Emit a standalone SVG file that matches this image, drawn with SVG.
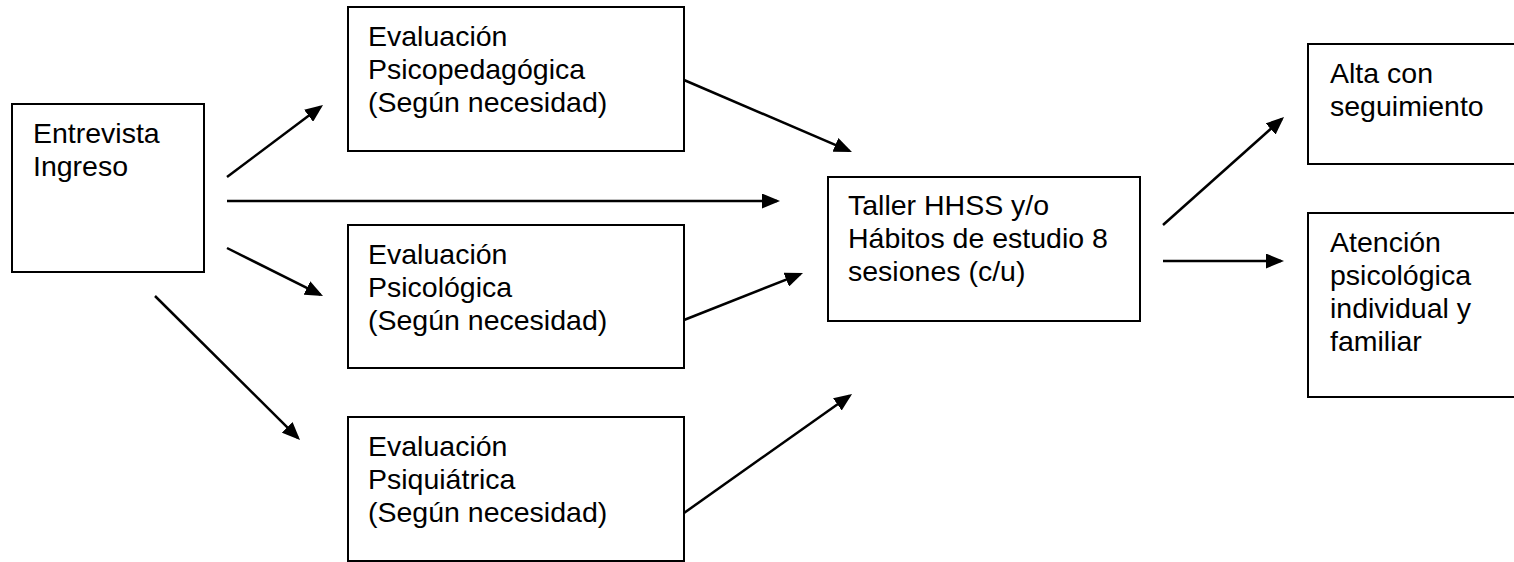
<svg xmlns="http://www.w3.org/2000/svg" width="1514" height="562" viewBox="0 0 1514 562">
  <style>
    .box { fill: #ffffff; stroke: #000000; stroke-width: 2; }
    .lbl { font-family: "Liberation Sans", Arial, sans-serif; font-size: 28.5px; fill: #000000; }
    .conn { stroke: #000000; stroke-width: 2.5; fill: none; marker-end: url(#arrow); }
  </style>
  <defs>
    <marker id="arrow" markerUnits="userSpaceOnUse" markerWidth="18" markerHeight="15" refX="15" refY="7.5" orient="auto">
      <path d="M0,0 L18,7.5 L0,15 Z" fill="#000000"/>
    </marker>
  </defs>
  <rect width="1514" height="562" fill="#ffffff"/>

  <g id="connectors">
    <line class="conn" x1="227" y1="177" x2="320.6" y2="106.8"/>
    <line class="conn" x1="227" y1="201" x2="777" y2="201"/>
    <line class="conn" x1="227" y1="248" x2="320.3" y2="294.7"/>
    <line class="conn" x1="155" y1="296" x2="297.9" y2="437.9"/>
    <line class="conn" x1="684" y1="80" x2="849.2" y2="150.8"/>
    <line class="conn" x1="684" y1="320" x2="800.2" y2="274.1"/>
    <line class="conn" x1="684" y1="513" x2="849.6" y2="395.7"/>
    <line class="conn" x1="1163" y1="225" x2="1281.8" y2="119"/>
    <line class="conn" x1="1163" y1="261" x2="1281" y2="261"/>
  </g>

  <g id="entrevista">
    <rect class="box" x="12" y="104" width="192" height="168"/>
    <text class="lbl" x="33" y="143">Entrevista</text>
    <text class="lbl" x="33" y="176">Ingreso</text>
  </g>

  <g id="eval-psicopedagogica">
    <rect class="box" x="348" y="7" width="336" height="144"/>
    <text class="lbl" x="368" y="46">Evaluación</text>
    <text class="lbl" x="368" y="79">Psicopedagógica</text>
    <text class="lbl" x="368" y="112">(Según necesidad)</text>
  </g>

  <g id="eval-psicologica">
    <rect class="box" x="348" y="225" width="336" height="143"/>
    <text class="lbl" x="368" y="264">Evaluación</text>
    <text class="lbl" x="368" y="297">Psicológica</text>
    <text class="lbl" x="368" y="330">(Según necesidad)</text>
  </g>

  <g id="eval-psiquiatrica">
    <rect class="box" x="348" y="417" width="336" height="144"/>
    <text class="lbl" x="368" y="456">Evaluación</text>
    <text class="lbl" x="368" y="489">Psiquiátrica</text>
    <text class="lbl" x="368" y="522">(Según necesidad)</text>
  </g>

  <g id="taller">
    <rect class="box" x="828" y="177" width="312" height="144"/>
    <text class="lbl" x="848" y="215">Taller HHSS y/o</text>
    <text class="lbl" x="848" y="248">Hábitos de estudio 8</text>
    <text class="lbl" x="848" y="281">sesiones (c/u)</text>
  </g>

  <g id="alta">
    <rect class="box" x="1308" y="44" width="220" height="120"/>
    <text class="lbl" x="1330" y="83">Alta con</text>
    <text class="lbl" x="1330" y="116">seguimiento</text>
  </g>

  <g id="atencion">
    <rect class="box" x="1308" y="213" width="220" height="184"/>
    <text class="lbl" x="1330" y="252">Atención</text>
    <text class="lbl" x="1330" y="285">psicológica</text>
    <text class="lbl" x="1330" y="318">individual y</text>
    <text class="lbl" x="1330" y="351">familiar</text>
  </g>
</svg>
